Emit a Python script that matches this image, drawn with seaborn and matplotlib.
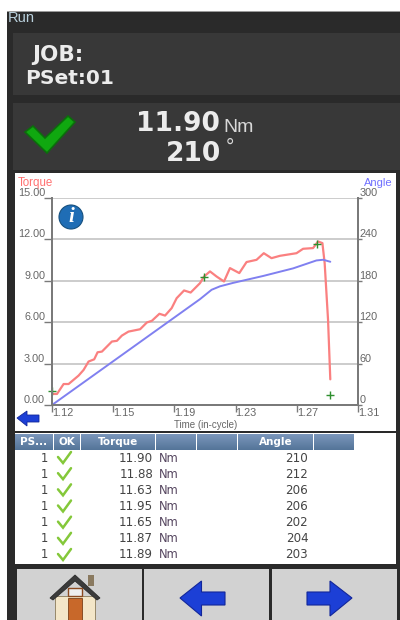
"""Torque / angle run screen from a tightening controller."""

import numpy as np
import pandas as pd
import matplotlib
matplotlib.use("Agg")
import matplotlib.pyplot as plt
from matplotlib.colors import LinearSegmentedColormap
from matplotlib.patches import Circle, Polygon, Rectangle
import seaborn as sns

# Chart data
torque_time = [1.1210, 1.1231, 1.1272, 1.1303, 1.1365, 1.1396, 1.1427, 1.1462, 1.1483, 1.1510,
               1.1572, 1.1603, 1.1634, 1.1675, 1.1747, 1.1789, 1.1820, 1.1867, 1.1902, 1.1943,
               1.1974, 1.2020, 1.2061, 1.2119, 1.2144, 1.2181, 1.2222, 1.2268, 1.2305, 1.2363,
               1.2408, 1.2470, 1.2515, 1.2563, 1.2615, 1.2718, 1.2759, 1.2821, 1.2852, 1.2879,
               1.2893, 1.2914, 1.2928]
torque_vals = [0.80, 0.80, 1.52, 1.52, 2.13, 2.54, 3.15, 3.31, 3.82, 3.87,
               4.60, 4.65, 5.03, 5.32, 5.49, 5.98, 6.10, 6.61, 6.48, 7.02,
               7.74, 8.30, 8.15, 8.83, 9.31, 9.68, 9.31, 8.95, 9.92, 9.56,
               10.36, 10.52, 11.00, 10.64, 10.81, 11.00, 11.32, 11.37, 11.85, 11.73,
               10.28, 6.17, 1.86]
angle_time = [1.1200, 1.2119, 1.2191, 1.2243, 1.2325, 1.2511, 1.2697, 1.2842, 1.2884, 1.2928]
angle_vals = [0, 153.4, 167, 172, 177, 187, 198, 209.5, 210.5, 207.6]
mark_time = [1.1200, 1.2144, 1.2846, 1.2928]
mark_torque = [1.00, 9.30, 11.68, 0.73]

x_ticks = [1.12, 1.158, 1.196, 1.234, 1.272, 1.31]
x_labels = ["1.12", "1.15", "1.19", "1.23", "1.27", "1.31"]
torque_ticks = [0, 3, 6, 9, 12, 15]
torque_labels = ["0.00", "3.00", "6.00", "9.00", "12.00", "15.00"]
angle_ticks = [0, 60, 120, 180, 240, 300]

# Results table
row_pset = [1, 1, 1, 1, 1, 1, 1]
row_torque = ["11.90", "11.88", "11.63", "11.95", "11.65", "11.87", "11.89"]
row_angle = [210, 212, 206, 206, 202, 204, 203]
header_names = ["PS...", "OK", "Torque", "", "", "Angle", ""]
header_edges = [(15, 53), (54, 80), (81, 155), (156, 196), (197, 237), (238, 313), (314, 354)]

TORQUE_COLOR = "#fa8080"
ANGLE_COLOR = "#8080f0"
AXIS_COLOR = "#7a7a7a"
TICK_COLOR = "#666666"
ARROW_BLUE = "#1c3fd6"

sns.set_theme(style="white")
plt.rcParams["font.family"] = ["DejaVu Sans"]

fig = plt.figure(figsize=(4.0, 6.2), dpi=100)

# ── Screen furniture, in pixel coordinates ───────────────────────────
ui = fig.add_axes([0, 0, 1, 1], zorder=0)
ui.axis("off")


def box(x0, y0, x1, y1, color, **kw):
    ui.add_patch(Rectangle((x0, y0), x1 - x0, y1 - y0, facecolor=color, edgecolor="none", **kw))


box(7, 11, 400, 620, "#2a2a2a")
box(7, 11, 400, 12, "#9a9a9a")
box(13, 33, 400, 95, "#383838")
box(13, 103, 400, 170, "#383838")
box(15, 173, 396, 431, "white")
box(15, 433, 396, 564, "white")
box(17, 569, 142, 620, "#d2d2d2")
box(144, 569, 269, 620, "#d2d2d2")
box(272, 569, 397, 620, "#d2d2d2")

ui.text(8, 18.5, "Run", color="#b9d0dc", fontsize=10.5, va="center", family="Liberation Sans")
ui.text(32, 55, "JOB:", color="#ececec", fontsize=15.5, fontweight="bold", va="center")
ui.text(25, 78, "PSet:01", color="#ececec", fontsize=14.5, fontweight="bold", va="center")
ui.text(220, 124, "11.90", color="#ececec", fontsize=19, fontweight="bold", va="center", ha="right")
ui.text(223, 128, "Nm", color="#d8d8d8", fontsize=14, va="center", family="Liberation Sans")
ui.text(166, 154, "210", color="#ececec", fontsize=19, fontweight="bold", va="center")
ui.text(226, 147, "°", color="#d8d8d8", fontsize=15, va="center", ha="left", family="Liberation Sans")

ui.add_patch(Polygon([(25, 132), (33, 126), (45, 138), (68, 116), (75, 122), (47, 153)],
                     facecolor="#10a810", edgecolor="#0b6e0b", linewidth=1.2))

# Table header
header_cmap = LinearSegmentedColormap.from_list("hdr", ["#7a96bb", "#557599"])
gradient = np.linspace(0, 1, 16).reshape(-1, 1)
for (x0, x1), name in zip(header_edges, header_names):
    ui.imshow(gradient, extent=(x0, x1, 450, 434), aspect="auto", zorder=2, cmap=header_cmap)
    ui.text((x0 + x1) / 2, 442, name, color="white", fontsize=7.5, fontweight="bold",
            ha="center", va="center", zorder=3)

# Table rows
row_y = np.linspace(458, 555, len(row_pset))
for y, pset, torque, angle in zip(row_y, row_pset, row_torque, row_angle):
    ui.text(44, y, str(pset), color="#444444", fontsize=8.3, ha="center", va="center")
    ui.plot([58, 63, 71], [y - 1, y + 5, y - 6], color="#84c83a", linewidth=1.8,
            solid_capstyle="round", solid_joinstyle="miter")
    ui.text(153, y, torque, color="#444444", fontsize=8.6, ha="right", va="center")
    ui.text(159, y, "Nm", color="#55455f", fontsize=8.3, va="center")
    ui.text(297, y, str(angle), color="#444444", fontsize=8.6, ha="center", va="center")

# Buttons
ui.add_patch(Rectangle((55, 596), 40, 24, facecolor="#f3e6c8", edgecolor="#8a7a5a", linewidth=0.6))
ui.add_patch(Rectangle((88, 575), 6, 11, facecolor="#8a7a60", edgecolor="none"))
ui.add_patch(Polygon([(75, 575), (50, 598), (53, 600), (75, 581), (97, 600), (100, 598)],
                     facecolor="#3b3b3b", edgecolor="#2b2b2b", linewidth=0.6))
ui.add_patch(Rectangle((68, 598), 14, 22, facecolor="#c8682a", edgecolor="#7a4018", linewidth=0.6))
ui.add_patch(Rectangle((68, 588), 14, 8, facecolor="#eeeeee", edgecolor="#8a4a20", linewidth=1))
ui.add_patch(Polygon([(180, 598), (201.5, 581), (201.5, 592), (225, 592), (225, 605), (201.5, 605), (201.5, 616)],
                     facecolor=ARROW_BLUE, edgecolor="#12269a", linewidth=0.8))
ui.add_patch(Polygon([(352, 598), (330, 581), (330, 592), (307, 592), (307, 605), (330, 605), (330, 616)],
                     facecolor=ARROW_BLUE, edgecolor="#12269a", linewidth=0.8))
ui.add_patch(Polygon([(17, 418), (27, 411), (27, 415), (39, 415), (39, 422), (27, 422), (27, 426)],
                     facecolor=ARROW_BLUE, edgecolor="#12269a", linewidth=0.6))

ui.text(18, 183, "Torque", color="#ff7070", fontsize=8.3, va="center", family="Liberation Sans")
ui.text(364, 183, "Angle", color="#7070ff", fontsize=8, va="center", family="Liberation Sans")
ui.text(206, 425.5, "Time (in-cycle)", color=TICK_COLOR, fontsize=7, ha="center", va="center",
        family="Liberation Sans")

ui.set_xlim(0, 400)
ui.set_ylim(620, 0)

# ── Chart ────────────────────────────────────────────────────────────
ax = fig.add_axes([52 / 400, 1 - 405 / 620, 306 / 400, 207 / 620], zorder=1)
ax.patch.set_alpha(0)
ax2 = ax.twinx()

torque_df = pd.DataFrame({"time": torque_time, "torque": torque_vals})
angle_df = pd.DataFrame({"time": angle_time, "angle": angle_vals})
marks_df = pd.DataFrame({"time": mark_time, "torque": mark_torque})

sns.lineplot(data=angle_df, x="time", y="angle", ax=ax2, color=ANGLE_COLOR, linewidth=1.4,
             errorbar=None, clip_on=False)
sns.lineplot(data=torque_df, x="time", y="torque", ax=ax, color=TORQUE_COLOR, linewidth=1.6,
             errorbar=None)
sns.scatterplot(data=marks_df, x="time", y="torque", ax=ax, marker="+", color="#2f8f2f", s=36,
                linewidth=1.0, clip_on=False, zorder=5)

ax.set_xlim(1.12, 1.31)
ax.set_ylim(0, 15)
ax2.set_ylim(0, 300)
ax.set_xlabel("")
ax.set_ylabel("")
ax2.set_ylabel("")

ax.set_xticks(x_ticks)
ax.set_xticklabels(x_labels, ha="left", color=TICK_COLOR, fontsize=7.8, family="Liberation Sans")
ax.set_yticks(torque_ticks)
ax.set_yticklabels(torque_labels, va="bottom", color=TICK_COLOR, fontsize=7.8, family="Liberation Sans")
ax2.set_yticks(angle_ticks)
ax2.set_yticklabels([str(v) for v in angle_ticks], va="bottom", color=TICK_COLOR, fontsize=7.8,
                    family="Liberation Sans")

ax.grid(axis="y", color="#c8c8c8", linewidth=1.3)
ax.grid(axis="x", visible=False)
ax2.grid(False)
ax.set_axisbelow(True)
ax.tick_params(axis="x", bottom=True, length=5, width=1, color=AXIS_COLOR, pad=-3)
ax.tick_params(axis="y", left=True, length=6, width=1, color=AXIS_COLOR, pad=-1)
ax2.tick_params(axis="y", right=True, length=3, width=1, color=AXIS_COLOR, pad=-2)

for a in (ax, ax2):
    a.spines["top"].set_visible(False)
    for side in ("left", "right", "bottom"):
        a.spines[side].set_color(AXIS_COLOR)
        a.spines[side].set_linewidth(1.4)

# Info badge sits on top of the chart
ui2 = fig.add_axes([0, 0, 1, 1], zorder=3)
ui2.axis("off")
ui2.patch.set_alpha(0)
ui2.add_patch(Circle((71, 217), 12, facecolor="#1f6db5", edgecolor="#16507f", linewidth=0.8))
ui2.text(71, 217, "i", color="white", fontsize=15, fontweight="bold", style="italic",
         family="Liberation Serif", ha="center", va="center")
ui2.set_xlim(0, 400)
ui2.set_ylim(620, 0)

fig.savefig("out.png", dpi=100)
